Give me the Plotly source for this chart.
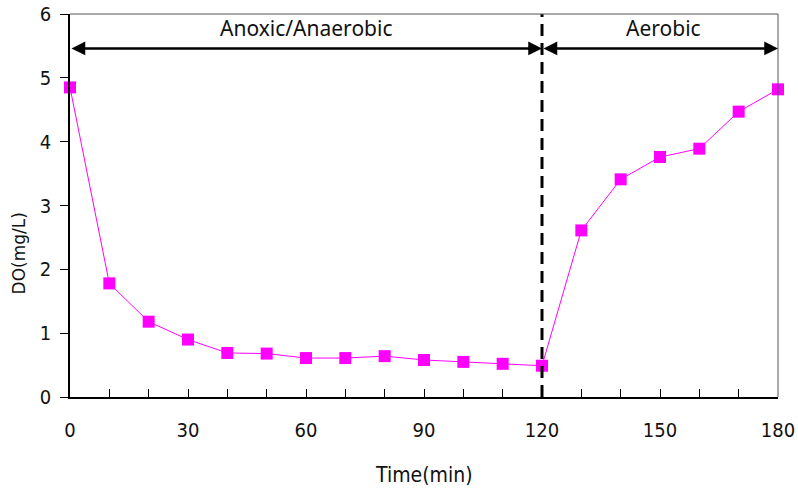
import plotly.graph_objects as go

time_min = [0, 10, 20, 30, 40, 50, 60, 70, 80, 90, 100, 110, 120,
            130, 140, 150, 160, 170, 180]
do_mgl = [4.85, 1.78, 1.18, 0.90, 0.69, 0.68, 0.61, 0.61, 0.64, 0.58, 0.55, 0.52, 0.49,
          2.61, 3.41, 3.76, 3.89, 4.47, 4.82]
x_ticks = [0, 30, 60, 90, 120, 150, 180]
y_ticks = [0, 1, 2, 3, 4, 5, 6]
phase_boundary = 120
phase_labels = ["Anoxic/Anaerobic", "Aerobic"]
phase_label_x = [60, 151]
phase_ranges = [(0, 120), (120, 180)]
arrow_y = 5.46
label_y = 5.78

narrow = "Liberation Sans Narrow, DejaVu Sans Condensed, sans-serif"
tick_font = dict(family=narrow, size=20, color="#111")
label_font = dict(family="Noto Sans, Open Sans, sans-serif", size=21, color="#111")

fig = go.Figure()
fig.add_trace(go.Scatter(
    x=time_min, y=do_mgl, mode="lines+markers",
    line=dict(color="#ff00ff", width=1),
    marker=dict(symbol="square", size=12, color="#ff00ff"),
    showlegend=False, cliponaxis=False,
))

# vertical dashed boundary
fig.add_shape(type="line", xref="x", yref="y", x0=phase_boundary, x1=phase_boundary,
              y0=0, y1=6, line=dict(color="black", width=3, dash="12px,7px"))

# top and right border (gray)
fig.add_shape(type="line", xref="paper", yref="paper", x0=0, x1=1, y0=1, y1=1,
              line=dict(color="#555", width=1))
fig.add_shape(type="line", xref="paper", yref="paper", x0=1, x1=1, y0=0, y1=1,
              line=dict(color="#555", width=1))

for (a, b) in phase_ranges:
    fig.add_annotation(x=b, y=arrow_y, ax=a, ay=arrow_y, xref="x", yref="y",
                       axref="x", ayref="y", text="", showarrow=True,
                       arrowhead=2, startarrowhead=2, arrowside="end+start",
                       arrowsize=1.1, startarrowsize=1.1,
                       arrowwidth=2.5, arrowcolor="black")

for txt, lx in zip(phase_labels, phase_label_x):
    fig.add_annotation(x=lx, y=label_y, xref="x", yref="y", text=txt,
                       showarrow=False, font=label_font)

# axis titles
fig.add_annotation(x=0.5, y=0, xref="paper", yref="paper", yshift=-78, yanchor="middle",
                   text="Time(min)", showarrow=False,
                   font=dict(family=narrow, size=21, color="#111"))
fig.add_annotation(x=-51 / 708, y=2.25, xref="paper", yref="y", xanchor="center",
                   text="DO(mg/L)", showarrow=False, textangle=-90,
                   font=dict(family="DejaVu Sans, sans-serif", size=17, color="#111"))

fig.update_layout(
    width=798, height=493,
    margin=dict(l=70, r=20, t=14, b=96, autoexpand=False),
    paper_bgcolor="white", plot_bgcolor="white",
    xaxis=dict(range=[0, 180], tickvals=x_ticks, ticks="inside", ticklen=8,
               tickcolor="black", showline=True, linecolor="black", linewidth=1.5,
               showgrid=False, zeroline=False, tickfont=tick_font,
               ticklabelstandoff=14,
               minor=dict(dtick=10, tick0=0, ticks="inside", ticklen=8, tickcolor="black", showgrid=False)),
    yaxis=dict(range=[0, 6], tickvals=y_ticks, ticks="outside", ticklen=8,
               tickcolor="black", showline=True, linecolor="black", linewidth=1.5,
               showgrid=False, zeroline=False, tickfont=tick_font,
               ticklabelstandoff=5),
)

fig.write_html("out.html")
